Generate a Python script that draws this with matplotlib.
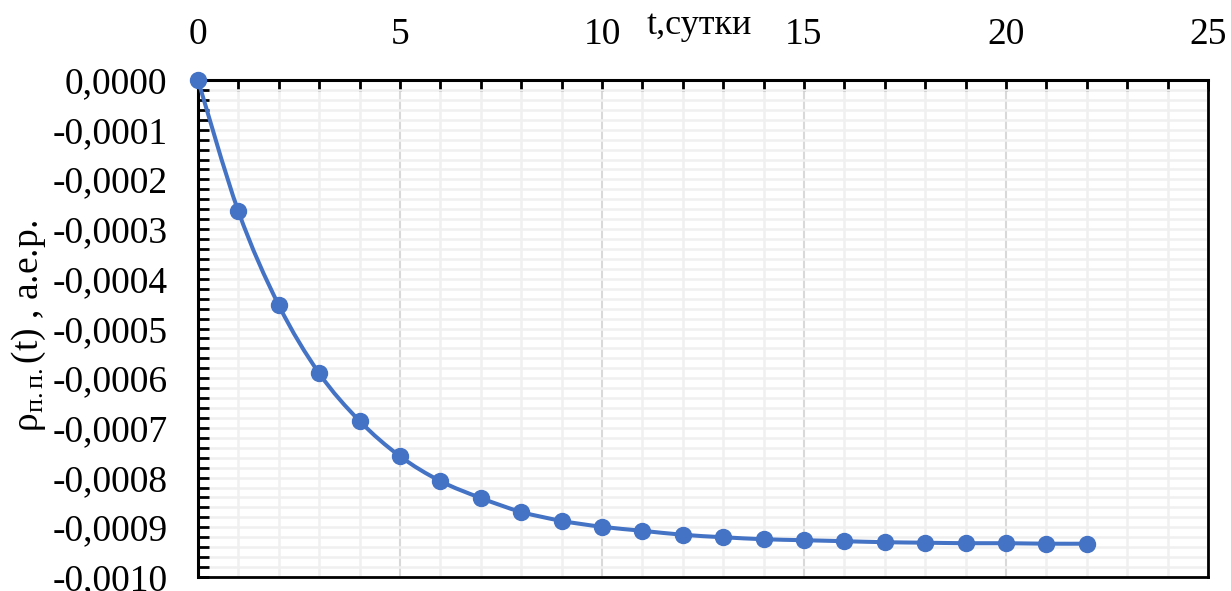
import numpy as np
import matplotlib.pyplot as plt
from matplotlib.path import Path
from matplotlib.patches import PathPatch
from matplotlib.ticker import MultipleLocator, FuncFormatter

plt.rcParams['font.family'] = ['Liberation Serif', 'DejaVu Serif']
plt.rcParams['mathtext.fontset'] = 'custom'
plt.rcParams['mathtext.rm'] = 'Liberation Serif'
plt.rcParams['mathtext.it'] = 'Liberation Serif:italic'

# data
t_days = [0, 1, 2, 3, 4, 5, 6, 7, 8, 9, 10, 11, 12, 13, 14, 15, 16, 17, 18, 19, 20, 21, 22]
rho = [0.0, -0.000264, -0.000453, -0.000590, -0.000686, -0.000757, -0.000807,
       -0.000841, -0.000869, -0.000887, -0.000899, -0.000907, -0.000915,
       -0.000920, -0.000924, -0.000926, -0.000928, -0.000930, -0.000931,
       -0.000932, -0.000932, -0.000933, -0.000933]

color = '#4472C4'

fig = plt.figure(figsize=(12.31, 5.91), dpi=100)
ax = fig.add_axes([0.1608, 0.0237, 0.9813 - 0.1608, 0.8646 - 0.0237])

# smoothed line like Excel (cubic bezier through the points)
pts = np.column_stack([t_days, rho])
verts = [pts[0]]
codes = [Path.MOVETO]
n = len(pts)
for i in range(n - 1):
    p0 = pts[max(i - 1, 0)]
    p1 = pts[i]
    p2 = pts[i + 1]
    p3 = pts[min(i + 2, n - 1)]
    c1 = p1 + (p2 - p0) / 6.0
    c2 = p2 - (p3 - p1) / 6.0
    verts += [c1, c2, p2]
    codes += [Path.CURVE4] * 3
ax.add_patch(PathPatch(Path(verts, codes), facecolor='none', edgecolor=color,
                       lw=2.9, zorder=3, clip_on=False, capstyle='round'))
ax.plot(t_days, rho, ls='none', marker='o', ms=11.5, color=color, zorder=4, clip_on=False)

ax.set_xlim(0, 25)
ax.set_ylim(-0.0010, 0.0)

ax.xaxis.set_major_locator(MultipleLocator(5))
ax.xaxis.set_minor_locator(MultipleLocator(1))
ax.yaxis.set_major_locator(MultipleLocator(0.0001))
ax.yaxis.set_minor_locator(MultipleLocator(0.00002))
ax.yaxis.set_major_formatter(FuncFormatter(lambda v, p: f"{v:.4f}".replace('.', ',').replace('-0,0000', '0,0000')))

ax.xaxis.tick_top()
ax.tick_params(axis='x', which='both', direction='in', top=True, bottom=False,
               labelsize=27, pad=20, length=8, width=2)
ax.tick_params(axis='y', which='both', direction='in', left=True, right=False,
               labelsize=27, pad=22, length=8, width=2)

ax.grid(True, which='minor', color='#f0f0f0', lw=1.8)
ax.grid(True, which='major', axis='y', color='#f0f0f0', lw=1.8)
ax.grid(True, which='major', axis='x', color='#d9d9d9', lw=1.5)
ax.set_axisbelow(True)

for s in ['top', 'left']:
    ax.spines[s].set_linewidth(2.2)
    ax.spines[s].set_color('black')
for s in ['bottom', 'right']:
    ax.spines[s].set_linewidth(2.0)
    ax.spines[s].set_color('black')

ax.text(0.496, 1.11, 't,сутки', transform=ax.transAxes, fontsize=26,
        ha='center', va='center')
ax.set_ylabel(r'$\mathregular{\rho_{п.п.}}$(t) , а.е.р.', fontsize=27)
ax.yaxis.set_label_coords(-0.148, 0.505)

fig.savefig('out.png', dpi=100)
